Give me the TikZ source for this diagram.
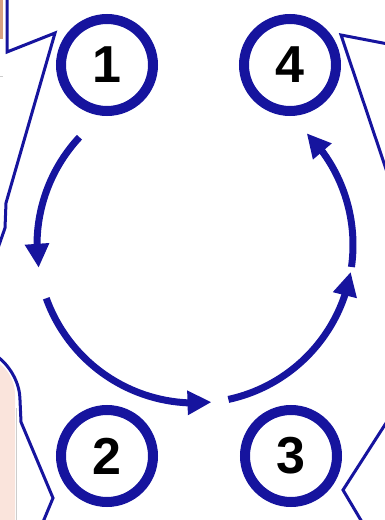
\documentclass[tikz,border=0pt]{standalone}
\usepackage{fontspec}
\setmainfont{Liberation Sans}
\usetikzlibrary{arrows.meta,bending}
\definecolor{dblue}{RGB}{22,20,158}
\definecolor{pinkfill}{RGB}{250,228,220}
\definecolor{peach}{RGB}{215,160,130}
\definecolor{lgray}{RGB}{205,205,205}
\tikzset{
  ring/.style={circle,draw=dblue,line width=10pt,minimum size=92pt,inner sep=0pt,
    font=\fontsize{52}{52}\selectfont\bfseries,text=black},
  cyclearrow/.style={draw=dblue,line width=7pt,line cap=butt,
    -{Triangle[length=24pt,width=23pt,flex]}},
  outline/.style={draw=dblue,line width=3pt,line join=miter}
}
\begin{document}
\begin{tikzpicture}[x=1pt,y=1pt]
\useasboundingbox (0,0) rectangle (385,520);
\clip (0,0) rectangle (385,520);
% edge decorations
\fill[peach] (0,481) rectangle (2.5,520);
\draw[lgray,line width=1pt] (0,443) -- (3,443);
\fill[pinkfill] (0,156) .. controls (9,149) and (15,138) .. (15,125) -- (15,0) -- (0,0) -- cycle;
\draw[lgray,line width=1.5pt] (16.5,0) -- (16.5,112);
\draw[outline] (7,522) -- (7,468) -- (55,487) -- (6,317) -- (5,292) -- (-2,272);
\draw[outline] (-2,163) .. controls (12,152) and (20,135) .. (20,120) -- (21,98) -- (53,22) -- (43,-2);
\draw[outline] (388,476) -- (341,485) -- (388,345);
\draw[outline] (388,100) -- (343,30) -- (362,-2);
% numbered circles
\node[ring] (n1) at (107,455) {1};
\node[ring] (n4) at (290,455) {4};
\node[ring] (n2) at (107,64) {2};
\node[ring] (n3) at (291,64) {3};
% cycle arrows
\coordinate (c) at (195,275);
\draw[cyclearrow] ([shift={(137:158)}]c) arc[start angle=137,end angle=188.3,radius=158];
\draw[cyclearrow] ([shift={(199.7:158)}]c) arc[start angle=199.7,end angle=276,radius=158];
\draw[cyclearrow] ([shift={(282.2:158)}]c) arc[start angle=282.2,end angle=350.2,radius=158];
\draw[cyclearrow] ([shift={(352:158)}]c) arc[start angle=352,end angle=405,radius=158];
\end{tikzpicture}
\end{document}
